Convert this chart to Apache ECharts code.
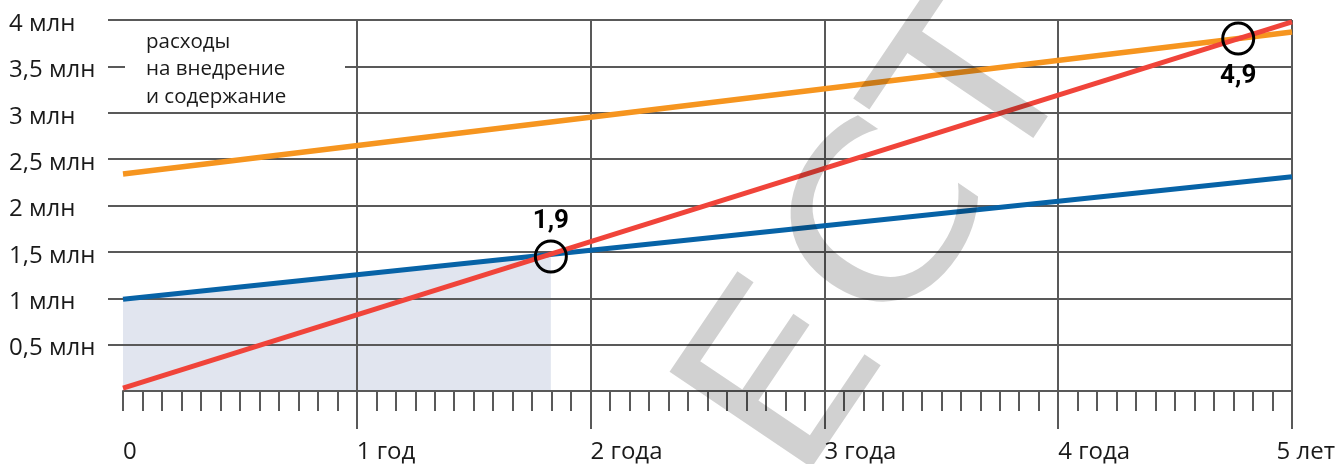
<!DOCTYPE html>
<html>
<head>
<meta charset="utf-8">
<script src="https://cdn.jsdelivr.net/npm/echarts@6/dist/echarts.min.js"></script>
<style>
html,body{margin:0;padding:0;background:#fff;}
#chart{width:1338px;height:464px;}
</style>
</head>
<body>
<div id="chart"></div>
<script>
// ---- data ----
var xTickLabels = ['0', '1 год', '2 года', '3 года', '4 года', '5 лет'];
var yTickLabels = ['', '0,5 млн', '1 млн', '1,5 млн', '2 млн', '2,5 млн', '3 млн', '3,5 млн', '4 млн'];
var yTickValues = [0.5, 1, 1.5, 2, 2.5, 3, 3.5, 4];
var xMajorTickValues = [1, 2, 3, 4, 5];
var xStartTickValues = [0];
// series: [years, million]
var blueLine = [[0, 0.99], [5, 2.31]];
var redLine = [[0, 0.03], [5, 3.98]];
var orangeLine = [[0, 2.34], [5, 3.87]];
var shadedArea = [[0, 0.99], [1.83, 1.47]];
var crossPoints = [[1.83, 1.45], [4.77, 3.80]];
var crossLabels = ['1,9', '4,9'];
var crossLabelSide = ['top', 'bottom'];
var noteLines = ['расходы', 'на внедрение', 'и содержание'];
var watermarkLetters = ['Е', 'С', 'Т'];

var GRID = '#595959';
var TXT = '#1a1a1a';
var FONT = '"Open Sans", "Noto Sans", sans-serif';

var chart = echarts.init(document.getElementById('chart'), null, {renderer: 'canvas'});

// watermark layout (decoration, not data)
var wmAngle = 56 * Math.PI / 180;
var wmAnchors = [[793, 386], [895, 234], [990, 93]];
var wmGraphics = watermarkLetters.map(function (ch, i) {
  return {
    type: 'text', z: 100, silent: true,
    x: wmAnchors[i][0], y: wmAnchors[i][1],
    rotation: wmAngle, scaleX: 1.12, scaleY: 1,
    style: {
      text: ch, fontSize: 235, fontWeight: 'normal', fontFamily: '"DejaVu Sans", sans-serif',
      align: 'center', verticalAlign: 'middle',
      fill: 'rgba(0,0,0,0.18)'
    }
  };
});

var option = {
  animation: false,
  backgroundColor: '#ffffff',
  grid: [
    {left: 123, right: 46, top: 20, bottom: 72},
    {left: 166, right: 3, top: 20, bottom: 72}
  ],
  xAxis: [
    {
      type: 'value', gridIndex: 0, position: 'bottom', min: 0, max: 5, interval: 1, z: 2,
      axisLine: {show: true, lineStyle: {color: GRID, width: 2}},
      axisTick: {show: true, customValues: xMajorTickValues, length: 38, lineStyle: {color: GRID, width: 2}},
      minorTick: {show: true, splitNumber: 12, length: 20, lineStyle: {color: GRID, width: 2}},
      splitLine: {show: true, lineStyle: {color: GRID, width: 2}},
      axisLabel: {
        show: true, align: 'left', margin: 49, color: TXT, fontSize: 24, fontFamily: FONT,
        formatter: function (v, i) { return i < xTickLabels.length - 1 ? xTickLabels[i] : ''; }
      }
    },
    {
      type: 'value', gridIndex: 0, position: 'bottom', offset: 0, min: 0, max: 5, interval: 1, z: 2,
      axisLine: {show: false, onZero: false},
      axisTick: {show: true, customValues: xStartTickValues, length: 20, lineStyle: {color: GRID, width: 2}},
      splitLine: {show: false},
      axisLabel: {show: false}
    },
    {
      type: 'value', gridIndex: 1, position: 'bottom', min: 0, max: 5, interval: 1, z: 2,
      axisLine: {show: false}, axisTick: {show: false}, splitLine: {show: false},
      axisLabel: {
        show: true, align: 'right', margin: 49, color: TXT, fontSize: 24, fontFamily: FONT,
        formatter: function (v, i) { return i === xTickLabels.length - 1 ? xTickLabels[i] : ''; }
      }
    }
  ],
  yAxis: [
    {
      type: 'value', gridIndex: 0, min: 0, max: 4, interval: 0.5, z: 2,
      axisLine: {show: false},
      axisTick: {show: true, customValues: yTickValues, length: 15, lineStyle: {color: GRID, width: 2}},
      splitLine: {show: true, lineStyle: {color: GRID, width: 2}},
      axisLabel: {
        show: true, align: 'left', margin: 114, color: TXT, fontSize: 24, fontFamily: FONT,
        formatter: function (v, i) { return yTickLabels[i] ? '{a|' + yTickLabels[i] + '}' : ''; },
        rich: {a: {fontSize: 24, fontFamily: FONT, color: TXT, padding: [8, 0, 0, 0]}}
      }
    },
    {
      type: 'value', gridIndex: 1, min: 0, max: 4, show: false
    }
  ],
  series: [
    {
      type: 'line', xAxisIndex: 0, yAxisIndex: 0, data: shadedArea, z: 1,
      symbol: 'none', lineStyle: {width: 0}, areaStyle: {color: '#e1e5ef', opacity: 1}, silent: true
    },
    {
      type: 'line', data: orangeLine, z: 3, symbol: 'none',
      lineStyle: {color: '#f6951f', width: 5.5}
    },
    {
      type: 'line', data: blueLine, z: 3, symbol: 'none',
      lineStyle: {color: '#0763a7', width: 5}
    },
    {
      type: 'line', data: redLine, z: 3, symbol: 'none',
      lineStyle: {color: '#f0443a', width: 5}
    },
    {
      type: 'scatter', z: 4, symbol: 'circle', symbolSize: 31,
      itemStyle: {color: 'rgba(255,255,255,0)', borderColor: '#000000', borderWidth: 3, opacity: 1},
      emphasis: {disabled: true},
      data: crossPoints.map(function (p, i) {
        return {
          value: p,
          label: {
            show: true, position: crossLabelSide[i], distance: crossLabelSide[i] === 'top' ? 5 : 8,
            formatter: crossLabels[i],
            color: '#000000', fontSize: 26, fontWeight: 'bold', fontFamily: 'Roboto, sans-serif'
          }
        };
      })
    }
  ],
  graphic: [
    {
      type: 'rect', z: 5, silent: true,
      shape: {x: 125, y: 28, width: 220, height: 84},
      style: {fill: '#ffffff'}
    },
    {
      type: 'text', z: 6, silent: true, x: 146, y: 28,
      style: {
        text: noteLines.join('\n'), fill: TXT, fontSize: 20.5, fontFamily: FONT,
        lineHeight: 27.5, align: 'left', verticalAlign: 'top'
      }
    }
  ].concat(wmGraphics)
};
chart.setOption(option);
</script>
</body>
</html>
